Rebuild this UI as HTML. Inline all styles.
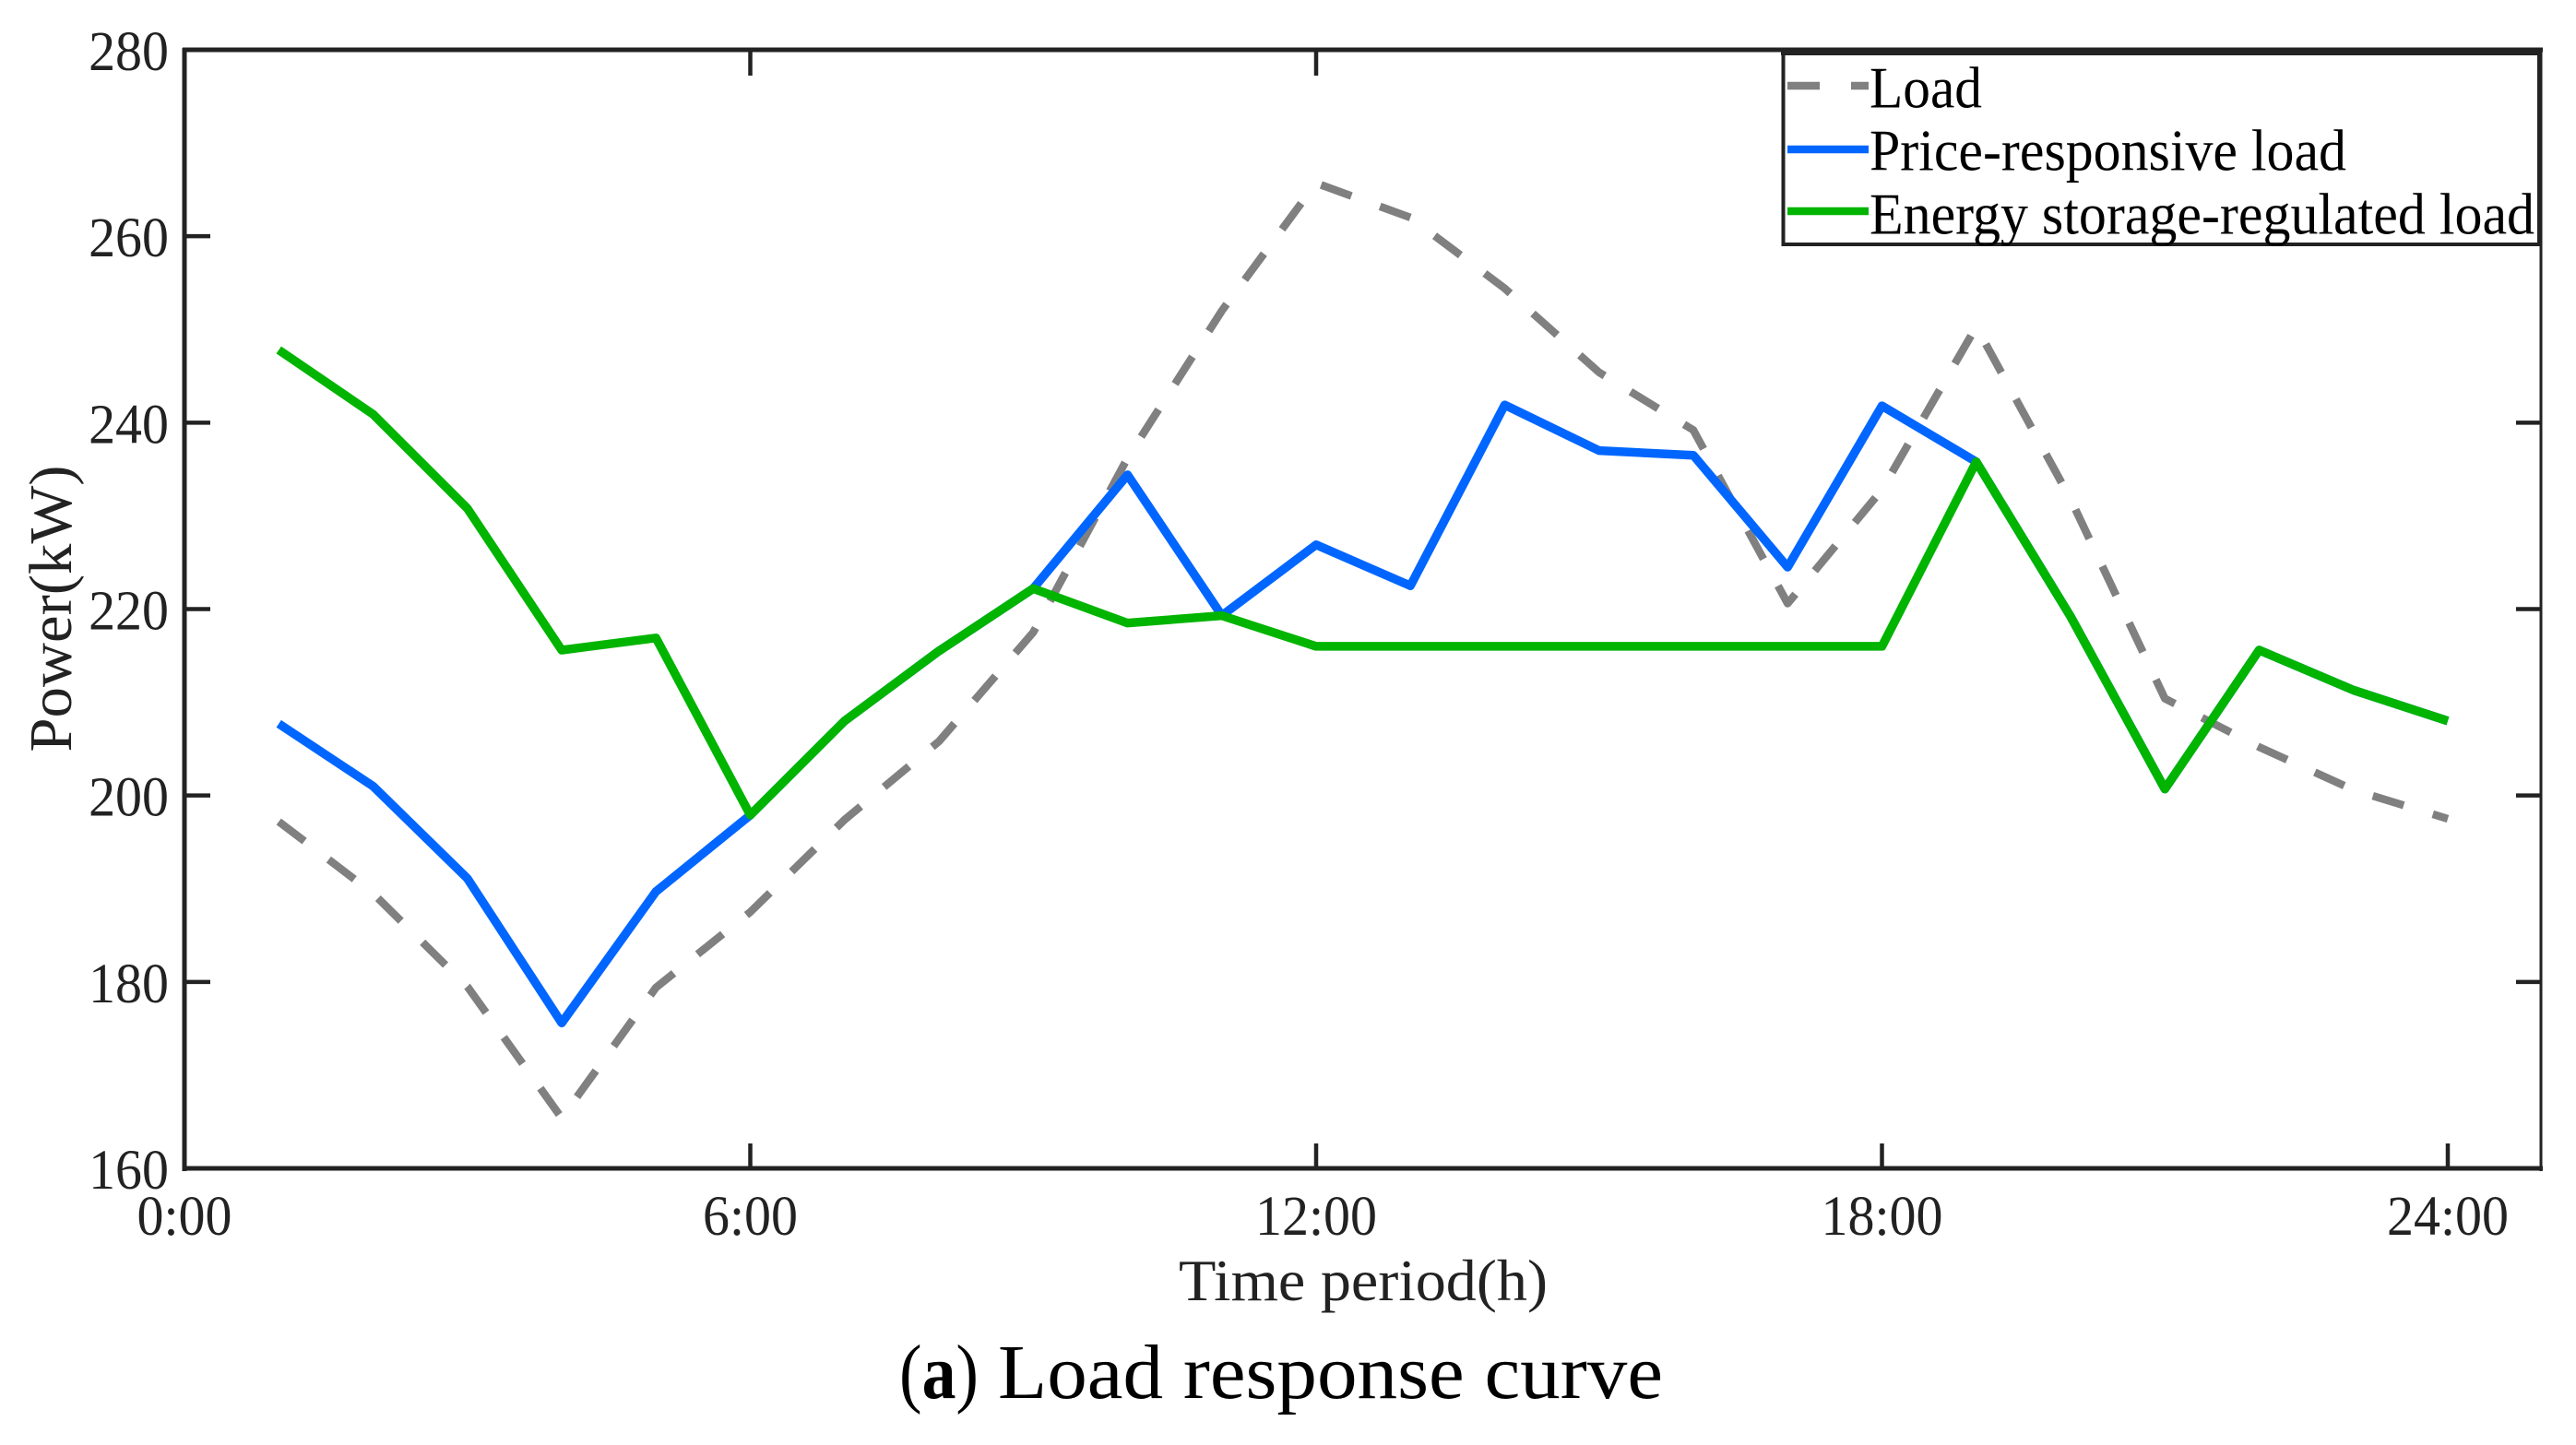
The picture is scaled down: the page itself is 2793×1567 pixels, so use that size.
<!DOCTYPE html>
<html lang="en">
<head>
<meta charset="utf-8">
<title>Load response curve</title>
<style>
html,body{margin:0;padding:0;background:#fff;width:2793px;height:1567px;overflow:hidden}
svg{display:block}
text{font-family:"Liberation Serif","Times New Roman",serif}
</style>
</head>
<body>
<svg id="chart" xmlns="http://www.w3.org/2000/svg" width="2793" height="1567" viewBox="0 0 2793 1567">
  <rect x="0" y="0" width="2793" height="1567" fill="#ffffff"/>
  <g id="series-layer"></g>
  <g id="axes-layer"></g>
  <text transform="translate(77,660) rotate(-90)" text-anchor="middle" font-size="66" fill="#222" textLength="311" lengthAdjust="spacingAndGlyphs">Power(kW)</text>
  <text x="1478" y="1410" text-anchor="middle" font-size="64" fill="#222" textLength="400" lengthAdjust="spacingAndGlyphs">Time period(h)</text>
  <g>
    <text x="975" y="1516" font-size="84" fill="#000" textLength="86" lengthAdjust="spacingAndGlyphs">(<tspan font-weight="bold">a</tspan>)</text>
    <text x="1082" y="1516" font-size="84" fill="#000" textLength="721" lengthAdjust="spacingAndGlyphs">Load response curve</text>
  </g>
  <g>
    <rect x="1933.5" y="56" width="819.5" height="209" fill="#ffffff" stroke="#222" stroke-width="4"/>
    <rect x="1931" y="52" width="825" height="8" fill="#222"/>
    <g>
      <line x1="1938" y1="93" x2="2026" y2="93" stroke="#808080" stroke-width="8.5" stroke-dasharray="35 34"/>
      <text x="2027" y="116.5" font-size="63" fill="#000" textLength="122" lengthAdjust="spacingAndGlyphs">Load</text>
    </g>
    <g>
      <line x1="1938" y1="162" x2="2026" y2="162" stroke="#0066ff" stroke-width="8.5"/>
      <text x="2027" y="184.5" font-size="63" fill="#000" textLength="517" lengthAdjust="spacingAndGlyphs">Price-responsive load</text>
    </g>
    <g>
      <line x1="1938" y1="229" x2="2026" y2="229" stroke="#00b400" stroke-width="8.5"/>
      <text x="2027" y="253.5" font-size="63" fill="#000" textLength="721" lengthAdjust="spacingAndGlyphs">Energy storage-regulated load</text>
    </g>
  </g>
</svg>
<script>
var hours = [1,2,3,4,5,6,7,8,9,10,11,12,13,14,15,16,17,18,19,20,21,22,23,24];
var loadValues = [197.2,189.5,179.5,165.4,179.4,187.5,197.4,205.8,217.5,236.2,252,265.7,262,254.4,245.4,239.2,220.6,232.8,250.3,231.8,210.4,205.2,200.6,197.5];
var priceValues = [207.7,201,191.1,175.6,189.7,197.9,208,215.5,222.2,234.4,219.3,226.9,222.5,241.9,237,236.5,224.5,241.8,235.8,219.2,200.7,215.6,211.3,208];
var storageValues = [247.8,240.9,230.8,215.6,216.9,197.9,208,215.5,222.2,218.5,219.3,216,216,216,216,216,216,216,235.8,219.2,200.7,215.6,211.3,208];
var yTickValues = [160,180,200,220,240,260,280];
var xTickHours = [0,6,12,18,24];
var xTickLabels = ["0:00","6:00","12:00","18:00","24:00"];

var NS = "http://www.w3.org/2000/svg";
function xScale(h){ return 200 + (h / 24) * 2454; }
function yScale(v){ return 1267 - ((v - 160) / 120) * 1213; }
function makeEl(tag, parent, attrs){
  var el = document.createElementNS(NS, tag);
  for (var k in attrs) el.setAttribute(k, attrs[k]);
  parent.appendChild(el);
  return el;
}
function pathFor(values){
  var d = "";
  for (var i = 0; i < values.length; i++){
    d += (i ? "L" : "M") + xScale(hours[i]).toFixed(2) + " " + yScale(values[i]).toFixed(2);
  }
  return d;
}
function condense(el){
  el.setAttribute("textLength", (el.getComputedTextLength() * 0.95).toFixed(1));
  el.setAttribute("lengthAdjust", "spacingAndGlyphs");
}

var seriesLayer = document.getElementById("series-layer");
var loadLine = makeEl("path", seriesLayer, {d: pathFor(loadValues), fill: "none", stroke: "#808080", "stroke-width": 8.5, "stroke-dasharray": "35 33", "stroke-linejoin": "round"});


var priceLine = makeEl("path", seriesLayer, {d: pathFor(priceValues), fill: "none", stroke: "#0066ff", "stroke-width": 9.5, "stroke-linejoin": "round"});


var storageLine = makeEl("path", seriesLayer, {d: pathFor(storageValues), fill: "none", stroke: "#00b400", "stroke-width": 9.5, "stroke-linejoin": "round"});



var axes = document.getElementById("axes-layer");
var leftSpine = makeEl("line", axes, {x1: 200, y1: 52, x2: 200, y2: 1270, stroke: "#222", "stroke-width": 5});


var bottomSpine = makeEl("line", axes, {x1: 198, y1: 1267, x2: 2757, y2: 1267, stroke: "#222", "stroke-width": 5});


var topSpine = makeEl("line", axes, {x1: 198, y1: 54, x2: 2757, y2: 54, stroke: "#222", "stroke-width": 5});


var rightSpine = makeEl("line", axes, {x1: 2755, y1: 52, x2: 2755, y2: 1270, stroke: "#222", "stroke-width": 3});



yTickValues.forEach(function(v){
  var y = yScale(v);
  if (v !== 160 && v !== 280){
    var tl = makeEl("line", axes, {x1: 200, y1: y, x2: 228, y2: y, stroke: "#222", "stroke-width": 4.5});
    
    
    var tr = makeEl("line", axes, {x1: 2728, y1: y, x2: 2755, y2: y, stroke: "#222", "stroke-width": 4.5});
    
    
  }
  var lab = makeEl("text", axes, {x: 183, y: y + 22, "text-anchor": "end", "font-size": 61, fill: "#222"});
  
  
  lab.textContent = String(v);
  condense(lab);
});

xTickHours.forEach(function(h, i){
  var x = xScale(h);
  if (h !== 0){
    var tb = makeEl("line", axes, {x1: x, y1: 1240, x2: x, y2: 1267, stroke: "#222", "stroke-width": 4.5});
    
    
    var tt = makeEl("line", axes, {x1: x, y1: 54, x2: x, y2: 82, stroke: "#222", "stroke-width": 4.5});
    
    
  }
  var lab = makeEl("text", axes, {x: x, y: 1339, "text-anchor": "middle", "font-size": 61, fill: "#222"});
  
  
  lab.textContent = xTickLabels[i];
  condense(lab);
});
</script>
</body>
</html>
